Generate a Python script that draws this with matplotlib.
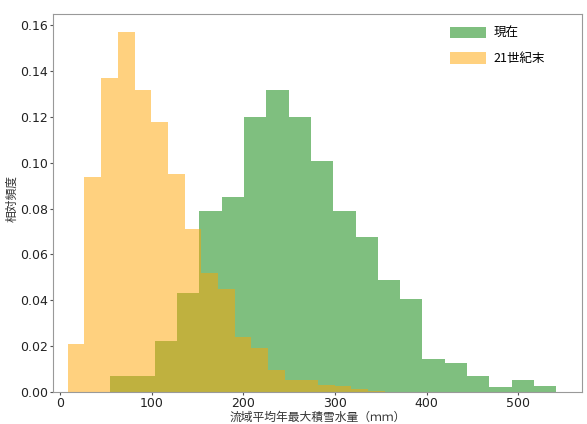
import numpy as np
import matplotlib
matplotlib.use("Agg")
import matplotlib.pyplot as plt
from matplotlib.ticker import FormatStrFormatter

plt.rcParams['font.family'] = ['Noto Sans CJK JP', 'DejaVu Sans']

# Data (relative frequency per bin)
current_edges = [54.6 + 24.33 * i for i in range(21)]
current_vals = [0.007, 0.007, 0.022, 0.043, 0.079, 0.085, 0.120, 0.132, 0.120, 0.101,
                0.079, 0.0675, 0.049, 0.0405, 0.0144, 0.0126, 0.0068, 0.0019, 0.0053, 0.0027]
future_edges = [8.4 + 18.2 * i for i in range(20)]
future_vals = [0.021, 0.094, 0.137, 0.157, 0.132, 0.118, 0.095, 0.071, 0.052, 0.045,
               0.024, 0.019, 0.0095, 0.005, 0.005, 0.003, 0.0025, 0.001, 0.0005]
labels = ['現在', '21世紀末']
xticks = [0, 100, 200, 300, 400, 500]
yticks = [0.00, 0.02, 0.04, 0.06, 0.08, 0.10, 0.12, 0.14, 0.16]

fig = plt.figure(figsize=(5.87, 4.24), dpi=100)
ax = fig.add_axes([0.091, 0.076, 0.900, 0.892])

ax.hist(current_edges[:-1], bins=current_edges, weights=current_vals,
        color='green', alpha=0.5, label=labels[0])
ax.hist(future_edges[:-1], bins=future_edges, weights=future_vals,
        color='orange', alpha=0.5, label=labels[1])

ax.set_xlim(-7.3, 569)
ax.set_ylim(0, 0.1652)
ax.set_xticks(xticks)
ax.set_yticks(yticks)
ax.yaxis.set_major_formatter(FormatStrFormatter('%.2f'))
ax.tick_params(labelsize=9, color='#555555', length=2.5, pad=1.2, labelcolor='#222222')
for lab in ax.get_xticklabels() + ax.get_yticklabels():
    lab.set_fontfamily('DejaVu Sans')
for s in ax.spines.values():
    s.set_color('#999999')
    s.set_linewidth(0.8)

ax.set_xlabel('流域平均年最大積雪水量（ｍｍ）', fontsize=8.5, color='#333333')
ax.xaxis.set_label_coords(0.5, -0.0845)
ax.xaxis.label.set_va('bottom')
ax.set_ylabel('相対頻度', fontsize=8.5, color='#333333')
ax.yaxis.set_label_coords(-0.078, 0.51)
ax.yaxis.label.set_va('center')

leg = ax.legend(loc='upper right', frameon=False, fontsize=9, handlelength=2.9,
                handleheight=1.0, labelspacing=1.0, handletextpad=0.6,
                bbox_to_anchor=(0.952, 0.995))

fig.savefig('out.png', dpi=100)
